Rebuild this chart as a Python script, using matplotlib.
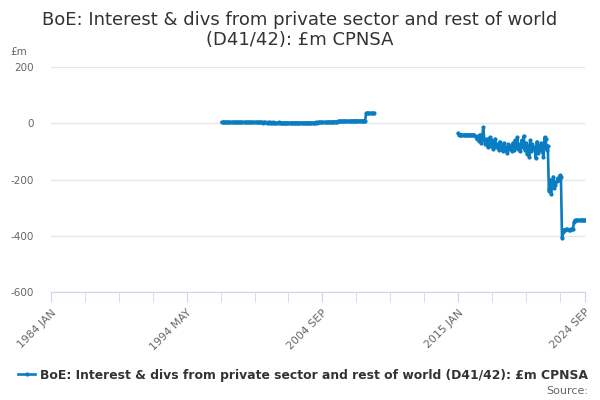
import numpy as np
import pandas as pd
import matplotlib
matplotlib.use("Agg")
import matplotlib.pyplot as plt
from matplotlib.lines import Line2D

title = "BoE: Interest & divs from private sector and rest of world\n(D41/42): £m CPNSA"
series_name = "BoE: Interest & divs from private sector and rest of world (D41/42): £m CPNSA"

months = pd.date_range("1984-01-01", "2024-09-01", freq="MS")
month_labels = [d.strftime("%Y %b").upper() for d in months]

# segment 1: 1997 JAN .. 2008 AUG
seg1_start = "1997 JAN"
seg1_values = [
    4, 4, 5, 4, 4, 4, 3, 4, 4, 4, 3, 4,
    4, 3, 4, 4, 3, 4, 4, 3, 4, 3, 3, 4,
    3, 3, 4, 3, 3, 3, 4, 3, 3, 3, 3, 3,
    3, 3, 2, 3, 3, 2, 3, 2, 3, 2, 2, 3,
    2, 2, 2, 2, 3, 2, 2, 2, 2, 2, 2, 2,
    2, 2, 1, 2, 2, 2, 1, 2, 2, 2, 2, 1,
    2, 2, 2, 1, 2, 2, 2, 2, 2, 2, 2, 2,
    2, 2, 3, 2, 3, 3, 3, 3, 3, 3, 4, 4,
    4, 4, 5, 5, 5, 5, 6, 6, 6, 6, 7, 7,
    7, 7, 7, 8, 8, 8, 8, 8, 8, 8, 8, 8,
    9, 9, 9, 9, 9, 9, 9, 9, 9, 9, 9, 9,
    35, 36, 36, 36, 36, 36, 36, 36,
]

# segment 2: 2015 JAN .. 2024 SEP
seg2_start = "2015 JAN"
seg2_values = [
    -36, -40, -41, -40, -41, -41, -40, -41, -41, -40, -41, -41,
    -41, -42, -40, -42, -48, -55, -45, -62, -40, -70, -50, -15,
    -60, -75, -55, -85, -65, -50, -80, -60, -90, -70, -55, -85,
    -75, -95, -65, -90, -80, -100, -70, -95, -85, -105, -75, -90,
    -80, -100, -70, -95, -60, -85, -50, -90, -75, -100, -60, -85,
    -45, -95, -70, -110, -80, -120, -60, -100, -75, -90, -85, -125,
    -65, -105, -80, -95, -70, -100, -120, -50, -55, -95, -80, -240,
    -200, -250, -210, -190, -230, -220, -205, -195, -200, -185, -190, -409,
    -385, -378, -378, -377, -377, -378, -378, -376, -376, -375, -350, -345,
    -345, -344, -344, -345, -344, -344, -344, -344, -344,
]

tick_labels = ["1984 JAN", "1994 MAY", "2004 SEP", "2015 JAN", "2024 SEP"]
y_ticks = [-600, -400, -200, 0, 200]

values = np.full(len(months), np.nan)
i1 = month_labels.index(seg1_start)
values[i1:i1 + len(seg1_values)] = seg1_values
i2 = month_labels.index(seg2_start)
values[i2:i2 + len(seg2_values)] = seg2_values

color = "#0a7cc1"
axis_col = "#ccd6eb"
grid_col = "#e6e6e6"

fig = plt.figure(figsize=(6, 4), dpi=100)
ax = fig.add_axes([51 / 600, 1 - 292 / 400, (585 - 51) / 600, (292 - 67) / 400])

x = np.arange(len(months))
ax.plot(x, values, color=color, lw=1.9, marker="o", ms=2.0, zorder=3)

ax.set_xlim(0, len(months) - 1)
ax.set_ylim(-600, 200)
ax.set_yticks(y_ticks)
ax.set_yticklabels([str(v) for v in y_ticks])
ax.grid(axis="y", color=grid_col, lw=1)
ax.set_axisbelow(True)
for s in ["top", "right", "left"]:
    ax.spines[s].set_visible(False)
ax.spines["bottom"].set_color(axis_col)
ax.tick_params(axis="y", length=0, labelsize=7.5, labelcolor="#666666", pad=12)

minor_pos = [i for i in range(0, len(months), 31)] + [len(months) - 1]
major_pos = [month_labels.index(l) for l in tick_labels]
ax.set_xticks(sorted(set(minor_pos)), minor=True)
ax.set_xticks(major_pos)
ax.set_xticklabels(tick_labels, rotation=45, ha="right", rotation_mode="anchor")
ax.tick_params(axis="x", which="both", length=7, color=axis_col, labelsize=7.8,
               labelcolor="#666666", direction="out")
ax.tick_params(axis="x", which="major", pad=4)

fig.text(0.5, 0.972, title, ha="center", va="top", fontsize=13, color="#333333",
         linespacing=1.1)
fig.text(10 / 600, 1 - 52 / 400, "£m", ha="left", va="center", fontsize=7.5, color="#666666")

handle = Line2D([0], [0], color=color, lw=1.9, marker="o", ms=2.0)
leg = fig.legend([handle], [series_name], loc="center", bbox_to_anchor=(0.505, 1 - 375 / 400),
                 frameon=False, prop={"size": 8.9, "weight": "bold"}, handlelength=1.3,
                 handletextpad=0.4)
for t in leg.get_texts():
    t.set_color("#333333")
fig.text(588 / 600, 1 - 391 / 400, "Source:", ha="right", va="center", fontsize=8,
         color="#666666")

fig.savefig("out.png", dpi=100)
